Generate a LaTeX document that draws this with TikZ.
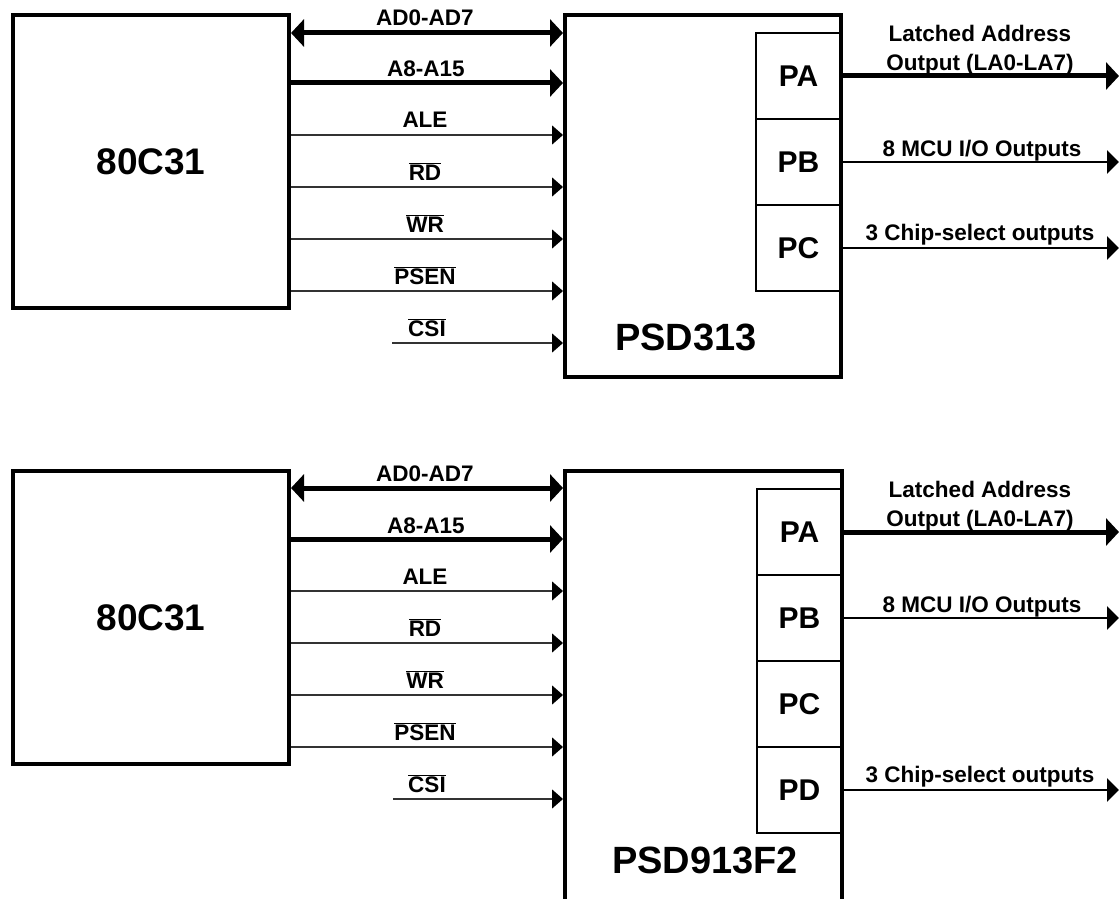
\documentclass[tikz,border=0pt]{standalone}
\usepackage{fontspec}
\setmainfont{Liberation Sans}
\usetikzlibrary{arrows.meta}
\newcommand{\ovl}[1]{$\overline{\mbox{#1}}$}
\begin{document}
\begin{tikzpicture}[x=1pt,y=-1pt,
  chip/.style={draw, line width=4pt, inner sep=0pt, font=\bfseries\fontsize{37}{40}\selectfont},
  port/.style={draw, line width=2.7pt, minimum width=85pt, minimum height=86pt, inner sep=0pt, font=\bfseries\fontsize{30}{32}\selectfont},
  busboth/.style={line width=5pt, {Triangle[length=13pt,width=27pt]}-{Triangle[length=13pt,width=27pt]}},
  bus/.style={line width=5pt, -{Triangle[length=13pt,width=27pt]}},
  sig/.style={line width=1.3pt, draw=black!80, -{Triangle[length=11pt,width=19pt,fill=black,color=black]}},
  outthin/.style={line width=2.5pt, -{Triangle[length=12pt,width=23pt]}},
  lbl/.style={font=\bfseries\fontsize{22.5}{25}\selectfont, anchor=base, inner sep=0pt},
  big/.style={font=\bfseries\fontsize{38}{40}\selectfont, inner sep=0pt}
]
\useasboundingbox (0,0) rectangle (1120,899);

% ---------------- top diagram ----------------
\node[chip, minimum width=276pt, minimum height=293pt] (mcuA) at (151,161.5) {80C31};
\node[chip, minimum width=276pt, minimum height=362pt] (psdA) at (703,196) {};
\node[big] (psdAlbl) at (686,337) {PSD313};
\node[port] (paA) at (798.5,76) {PA};
\node[port] (pbA) at (798.5,162) {PB};
\node[port] (pcA) at (798.5,248) {PC};

\draw[busboth] (mcuA.east |- 0,33) -- (psdA.west |- 0,33);
\draw[bus] (mcuA.east |- 0,83) -- (psdA.west |- 0,83);
\draw[sig] (mcuA.east |- 0,135) -- (psdA.west |- 0,135);
\draw[sig] (mcuA.east |- 0,187) -- (psdA.west |- 0,187);
\draw[sig] (mcuA.east |- 0,239) -- (psdA.west |- 0,239);
\draw[sig] (mcuA.east |- 0,291) -- (psdA.west |- 0,291);
\coordinate (csiA) at (392,343);
\draw[sig] (csiA) -- (psdA.west |- csiA);

\node[lbl] (lAD) at (425,26) {AD0-AD7};
\node[lbl] (lA8) at (426,77) {A8-A15};
\node[lbl] (lALE) at (425,128) {ALE};
\node[lbl] (lRD) at (425,180) {\ovl{RD}};
\node[lbl] (lWR) at (425,232) {\ovl{WR}};
\node[lbl] (lPSEN) at (425,284) {\ovl{PSEN}};
\node[lbl] (lCSI) at (427,336) {\ovl{CSI}};

\coordinate (oA1) at (1119,76);
\coordinate (oA2) at (1119,162);
\coordinate (oA3) at (1119,248);
\draw[bus] (paA.east) -- (oA1);
\draw[outthin] (pbA.east) -- (oA2);
\draw[outthin] (pcA.east) -- (oA3);
\node[lbl] (lLatA) at (980,42) {Latched Address};
\node[lbl] (lOutA) at (980,71) {Output (LA0-LA7)};
\node[lbl] (lMcuA) at (982,156) {8 MCU I/O Outputs};
\node[lbl] (lCsA) at (980,240) {3 Chip-select outputs};

% ---------------- bottom diagram ----------------
\node[chip, minimum width=276pt, minimum height=293pt] (mcuB) at (151,617.5) {80C31};
\node[chip, minimum width=277pt, minimum height=469pt] (psdB) at (703.5,705.5) {};
\node[big] (psdBlbl) at (705,860) {PSD913F2};
\node[port] (paB) at (799.5,532) {PA};
\node[port] (pbB) at (799.5,618) {PB};
\node[port] (pcB) at (799.5,704) {PC};
\node[port] (pdB) at (799.5,790) {PD};

\draw[busboth] (mcuB.east |- 0,488) -- (psdB.west |- 0,488);
\draw[bus] (mcuB.east |- 0,539) -- (psdB.west |- 0,539);
\draw[sig] (mcuB.east |- 0,591) -- (psdB.west |- 0,591);
\draw[sig] (mcuB.east |- 0,643) -- (psdB.west |- 0,643);
\draw[sig] (mcuB.east |- 0,695) -- (psdB.west |- 0,695);
\draw[sig] (mcuB.east |- 0,747) -- (psdB.west |- 0,747);
\coordinate (csiB) at (393,799);
\draw[sig] (csiB) -- (psdB.west |- csiB);

\node[lbl] (lADb) at (425,481) {AD0-AD7};
\node[lbl] (lA8b) at (426,533) {A8-A15};
\node[lbl] (lALEb) at (425,584) {ALE};
\node[lbl] (lRDb) at (425,636) {\ovl{RD}};
\node[lbl] (lWRb) at (425,688) {\ovl{WR}};
\node[lbl] (lPSENb) at (425,740) {\ovl{PSEN}};
\node[lbl] (lCSIb) at (427,792) {\ovl{CSI}};

\coordinate (oB1) at (1119,532);
\coordinate (oB2) at (1119,618);
\coordinate (oB4) at (1119,790);
\draw[bus] (paB.east) -- (oB1);
\draw[outthin] (pbB.east) -- (oB2);
\draw[outthin] (pdB.east) -- (oB4);
\node[lbl] (lLatB) at (980,497) {Latched Address};
\node[lbl] (lOutB) at (980,526) {Output (LA0-LA7)};
\node[lbl] (lMcuB) at (982,612) {8 MCU I/O Outputs};
\node[lbl] (lCsB) at (980,782) {3 Chip-select outputs};
\end{tikzpicture}
\end{document}
